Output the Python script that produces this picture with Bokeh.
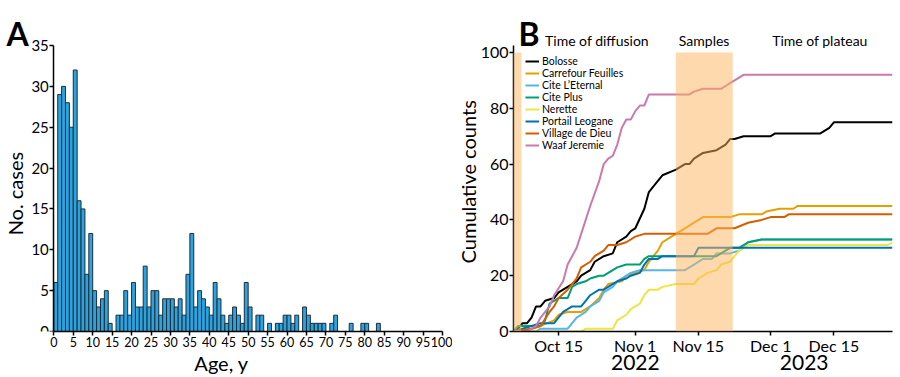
import numpy as np
from bokeh.plotting import figure
from bokeh.models import (Range1d, FixedTicker, Label, BoxAnnotation, Legend,
                          LegendItem, DatetimeTickFormatter, ColumnDataSource, LinearAxis)
from bokeh.layouts import row
from bokeh.embed import file_html
from bokeh.resources import INLINE

FONT = "Lato"

# ---------------- Panel A data ----------------
age_years = list(range(0, 84))
case_counts = [6, 29, 30, 28, 25, 32, 16, 15, 7, 12,
               5, 3, 4, 5, 1, 0, 2, 2, 5, 2,
               6, 3, 3, 8, 3, 5, 5, 2, 4, 4,
               4, 3, 4, 2, 7, 12, 3, 5, 4, 3,
               2, 6, 4, 2, 1, 2, 3, 2, 1, 6,
               3, 0, 2, 2, 0, 1, 0, 1, 1, 2,
               2, 1, 2, 0, 3, 2, 1, 1, 1, 1,
               0, 1, 2, 0, 0, 0, 1, 0, 0, 1,
               1, 0, 0, 1]
age_ticks = list(range(0, 101, 5))
count_ticks = list(range(0, 36, 5))

# ---------------- Panel B data ----------------
YEAR = "2022"
bolosse_dates = ["10-05", "10-06", "10-07", "10-08", "10-09", "10-10", "10-11", "10-12", "10-14", "10-15",
                 "10-17", "10-19", "10-20", "10-22", "10-23", "10-25", "10-27", "10-28", "10-30", "10-31",
                 "11-01", "11-03", "11-04", "11-06", "11-07", "11-10", "11-12", "11-13", "11-14", "11-16",
                 "11-19", "11-21", "11-22", "11-23", "11-25", "12-01", "12-02", "12-12", "12-14", "12-15", "12-28"]
bolosse_counts = [0, 1, 3, 3, 5, 9, 9, 11, 12, 14,
                  16, 18, 20, 22, 25, 27, 28, 32, 34, 36,
                  37, 44, 50, 54, 56, 58, 60, 60, 62, 64,
                  65, 67, 69, 69, 70, 70, 71, 71, 73, 75, 75]

carrefour_dates = ["10-05", "10-09", "10-11", "10-14", "10-15", "10-17", "10-20", "10-22", "10-24", "10-25",
                   "10-26", "10-29", "10-30", "11-01", "11-03", "11-04", "11-06", "11-07", "11-09", "11-10",
                   "11-12", "11-14", "11-16", "11-22", "11-24", "11-29", "11-30", "12-03", "12-06", "12-07", "12-28"]
carrefour_counts = [0, 1, 2, 4, 6, 7, 7, 9, 12, 15,
                    17, 18, 20, 21, 22, 25, 29, 32, 34, 35,
                    37, 39, 41, 41, 42, 42, 43, 44, 44, 45, 45]

eternal_dates = ["10-05", "10-10", "10-11", "10-17", "10-18", "10-19", "10-21", "10-22", "10-24", "10-25",
                 "10-27", "10-28", "10-30", "10-31", "11-02", "11-12", "11-14", "11-16", "11-18", "11-19",
                 "11-22", "11-24", "11-25", "11-26", "11-29", "12-28"]
eternal_counts = [0, 0, 1, 1, 3, 5, 7, 9, 11, 14,
                  16, 18, 20, 21, 22, 22, 24, 26, 26, 28,
                  28, 29, 30, 32, 33, 33]

citeplus_dates = ["10-05", "10-06", "10-11", "10-12", "10-13", "10-15", "10-17", "10-18", "10-19", "10-21",
                  "10-22", "10-24", "10-25", "10-27", "10-28", "10-30", "11-02", "11-03", "11-04", "11-19",
                  "11-22", "11-24", "11-26", "11-29", "12-28"]
citeplus_counts = [0, 2, 2, 4, 10, 12, 12, 16, 17, 18,
                   19, 20, 20, 22, 23, 24, 24, 26, 27, 27,
                   30, 30, 32, 33, 33]

nerette_dates = ["10-05", "10-20", "10-21", "10-27", "10-28", "10-30", "10-31", "11-02", "11-03", "11-04",
                 "11-06", "11-07", "11-10", "11-14", "11-15", "11-17", "11-19", "11-20", "11-22", "11-23",
                 "11-24", "11-26", "12-27", "12-28"]
nerette_counts = [0, 0, 1, 1, 4, 6, 8, 10, 13, 15,
                  15, 16, 17, 17, 19, 21, 22, 24, 25, 27,
                  29, 31, 31, 32]

leogane_dates = ["10-05", "10-07", "10-09", "10-11", "10-14", "10-16", "10-18", "10-20", "10-21", "10-22",
                 "10-24", "10-25", "10-27", "10-28", "10-30", "10-31", "11-02", "11-03", "11-04", "11-06",
                 "11-07", "11-14", "11-15", "12-28"]
leogane_counts = [0, 1, 2, 3, 3, 7, 9, 9, 11, 13,
                  15, 15, 17, 18, 19, 20, 21, 24, 26, 26,
                  27, 27, 30, 30]

dieu_dates = ["10-05", "10-09", "10-11", "10-13", "10-14", "10-15", "10-17", "10-19", "10-20", "10-22",
              "10-23", "10-25", "10-26", "10-28", "10-30", "11-01", "11-03", "11-17", "11-19", "11-23",
              "11-26", "11-29", "12-01", "12-04", "12-05", "12-28"]
dieu_counts = [0, 1, 2, 7, 9, 12, 15, 19, 23, 25,
               27, 29, 31, 31, 32, 34, 35, 35, 37, 37,
               39, 40, 41, 41, 42, 42]

jeremie_dates = ["10-05", "10-08", "10-10", "10-11", "10-13", "10-14", "10-16", "10-17", "10-19", "10-20",
                 "10-22", "10-24", "10-25", "10-26", "10-27", "10-28", "10-29", "10-30", "10-31", "11-01",
                 "11-02", "11-03", "11-04", "11-13", "11-14", "11-16", "11-20", "11-21", "11-22", "11-24",
                 "11-25", "12-28"]
jeremie_counts = [0, 0, 2, 5, 9, 13, 18, 24, 30, 35,
                  45, 54, 60, 62, 63, 67, 73, 76, 76, 79,
                  81, 81, 85, 85, 86, 87, 87, 88, 89, 91,
                  92, 92]

series_names = ["Bolosse", "Carrefour Feuilles", "Cite L\u2019Eternal", "Cite Plus",
                "Nerette", "Portail Leogane", "Village de Dieu", "Waaf Jeremie"]
series_dates = [bolosse_dates, carrefour_dates, eternal_dates, citeplus_dates,
                nerette_dates, leogane_dates, dieu_dates, jeremie_dates]
series_counts = [bolosse_counts, carrefour_counts, eternal_counts, citeplus_counts,
                 nerette_counts, leogane_counts, dieu_counts, jeremie_counts]
series_colors = ["#000000", "#E69F00", "#56B4E9", "#009E73",
                 "#F0E442", "#0072B2", "#D55E00", "#CC79A7"]

band_starts = ["2022-10-04T00:00", "2022-11-10T00:00"]
band_ends = ["2022-10-06T18:00", "2022-11-22T14:00"]
period_labels = ["Time of diffusion", "Samples", "Time of plateau"]
period_label_dates = ["2022-10-23T12:00", "2022-11-16T06:00", "2022-12-11T22:00"]
date_ticks = ["2022-10-15", "2022-11-01", "2022-11-15", "2022-12-01", "2022-12-15"]
year_labels = ["2022", "2023"]
year_label_dates = ["2022-11-01T00:00", "2022-12-08T10:00"]
x_start, x_end = "2022-10-05", "2022-12-28"

NBSP = "\u00a0"


def ms(s):
    return int(np.datetime64(s, "ms").astype("int64"))


def style_axis(ax, tick_size, label_size):
    ax.axis_line_color = "black"
    ax.axis_line_width = 1.5
    ax.major_tick_line_color = "black"
    ax.major_tick_line_width = 1.5
    ax.minor_tick_line_color = None
    ax.major_tick_in = 0
    ax.major_tick_out = 4
    ax.major_label_text_font = FONT
    ax.major_label_text_font_size = tick_size
    ax.major_label_text_color = "black"
    ax.axis_label_text_font = FONT
    ax.axis_label_text_font_size = label_size
    ax.axis_label_text_font_style = "normal"
    ax.axis_label_text_color = "black"
    ax.major_label_standoff = 1
    ax.axis_label_standoff = 1


TOP = 6          # shared top border (px)
BOTTOM = 46      # shared bottom border (px)

# ---------------- Panel A ----------------
a_px_per_year = 388.4 / 100.0
a_px_per_case = 286.0 / 35.0
a_x_start = -53.3 / a_px_per_year
a_y_end = 35 + (45 - TOP) / a_px_per_case
pa = figure(width=452, height=377, x_range=Range1d(a_x_start, 100), y_range=Range1d(0, a_y_end),
            output_backend="svg", toolbar_location=None,
            min_border_left=0, min_border_right=10, min_border_top=TOP, min_border_bottom=BOTTOM)
pa.outline_line_color = None
pa.grid.visible = False
nz = [i for i, c in enumerate(case_counts) if c > 0]
src_a = ColumnDataSource(dict(left=[age_years[i] for i in nz],
                              right=[age_years[i] + 1 for i in nz],
                              top=[case_counts[i] for i in nz]))
pa.quad(left="left", right="right", bottom=0, top="top", source=src_a,
        fill_color="#2AA3DE", line_color="#1F2D3A", line_width=1)
pa.xaxis.ticker = FixedTicker(ticks=age_ticks)
pa.yaxis.ticker = FixedTicker(ticks=count_ticks)
pa.xaxis.bounds = (0, 100)
pa.yaxis.bounds = (0, 35)
pa.yaxis.fixed_location = 0
pa.xaxis.axis_label = "Age, y"
pa.yaxis.axis_label = "No. cases" + NBSP * 2
style_axis(pa.xaxis[0], "12.5px", "20px")
style_axis(pa.yaxis[0], "15px", "20px")
pa.add_layout(Label(x=-12.2, y=36.43, text="A", text_font=FONT, text_font_size="32px",
                    text_font_style="bold", text_color="black", text_align="left",
                    text_baseline="alphabetic"))

# ---------------- Panel B ----------------
y_top = 102.5
b_px_per_count = 285.5 / y_top
b_y_end = y_top + (45 - TOP) / b_px_per_count
pb = figure(width=448, height=377, x_axis_type="datetime",
            x_range=Range1d(ms(x_start), ms(x_end)), y_range=Range1d(0, b_y_end),
            output_backend="svg", toolbar_location=None,
            min_border_left=55, min_border_right=8, min_border_top=TOP, min_border_bottom=BOTTOM)
pb.outline_line_color = None
pb.grid.visible = False

items = []
for name, dts, cnts, col in zip(series_names, series_dates, series_counts, series_colors):
    xs = np.array([np.datetime64(f"{YEAR}-{d}") for d in dts])
    r = pb.line(xs, cnts, line_color=col, line_width=2)
    items.append(LegendItem(label=name, renderers=[r]))

for s, e in zip(band_starts, band_ends):
    pb.add_layout(BoxAnnotation(left=ms(s), right=ms(e), bottom=0, top=100,
                                fill_color="#FBB45C", fill_alpha=0.5, line_alpha=0))

legend = Legend(items=items, location=(10, 178), padding=2,
                label_text_font=FONT, label_text_font_size="10.5px", label_text_color="black",
                label_height=10, glyph_height=10, glyph_width=14, spacing=-1,
                label_standoff=3, border_line_alpha=0, background_fill_alpha=0)
pb.add_layout(legend)

pb.xaxis.ticker = FixedTicker(ticks=[ms(t) for t in date_ticks])
pb.xaxis.formatter = DatetimeTickFormatter(days="%b %-d", months="%b %-d", hours="%b %-d",
                                           years="%b %-d")
pb.xaxis.bounds = (ms(x_start), ms(x_end))
pb.yaxis.ticker = FixedTicker(ticks=[0, 20, 40, 60, 80, 100])
pb.yaxis.bounds = (0, y_top)
pb.yaxis.axis_label = "Cumulative counts" + NBSP * 5
style_axis(pb.xaxis[0], "16px", "20px")
style_axis(pb.yaxis[0], "16px", "20px")
pb.xaxis.major_label_standoff = 0
pb.yaxis.axis_label_standoff = -2

year_ticks = [ms(d) for d in year_label_dates]
year_axis = LinearAxis(ticker=FixedTicker(ticks=year_ticks),
                       major_label_overrides={t: lab for t, lab in zip(year_ticks, year_labels)})
year_axis.axis_line_color = None
year_axis.major_tick_line_color = None
year_axis.minor_tick_line_color = None
year_axis.major_tick_out = 0
year_axis.major_tick_in = 0
year_axis.major_label_standoff = -3
year_axis.major_label_text_font = FONT
year_axis.major_label_text_font_size = "21px"
year_axis.major_label_text_color = "black"
pb.add_layout(year_axis, "below")

for txt, d in zip(period_labels, period_label_dates):
    pb.add_layout(Label(x=ms(d), y=104.3, text=txt, text_font=FONT, text_font_size="14px",
                        text_color="black", text_align="center", text_baseline="middle"))
pb.add_layout(Label(x=ms("2022-10-06T02:00"), y=106.7, text="B", text_font=FONT,
                    text_font_size="32px", text_font_style="bold", text_color="black",
                    text_align="left", text_baseline="alphabetic"))

layout = row(pa, pb, spacing=0)
open("out.html", "w").write(file_html(layout, INLINE))
